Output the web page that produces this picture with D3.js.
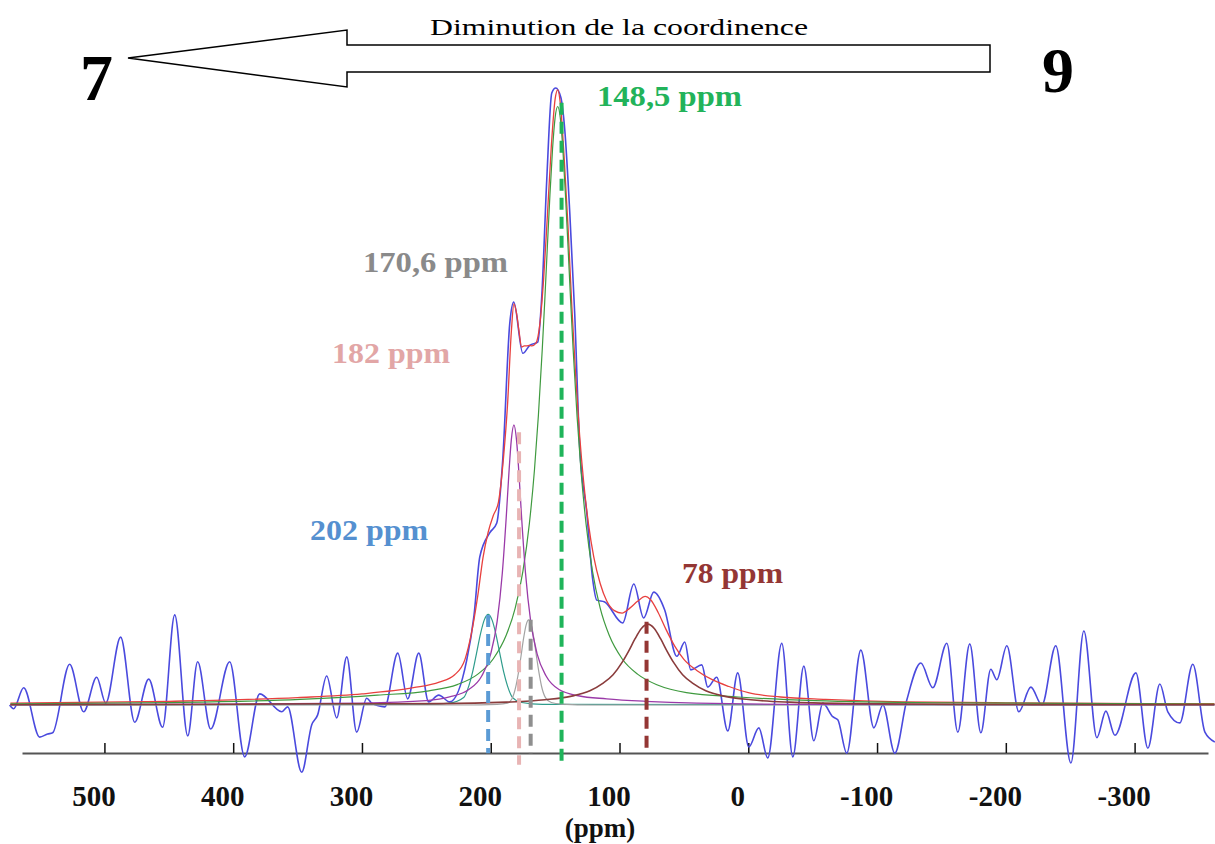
<!DOCTYPE html>
<meta charset="utf-8">
<style>
body { margin: 0; background: #fff; }
svg { display: block; font-family: "Liberation Serif", "Times New Roman", Tinos, Times, serif; }
svg text { font-family: "Liberation Serif", "Times New Roman", Tinos, Times, serif; }
.curve { fill: none; stroke-linejoin: round; }
</style>
<svg width="1215" height="844"></svg>
<script src="https://d3js.org/d3.v7.min.js"></script>
<script>

// axis ticks (ppm)
var tickValues = [500, 400, 300, 200, 100, 0, -100, -200, -300];

// experimental spectrum (blue), ppm / intensity (% of max)
var spectrumPpm = [573.6, 570.5, 562.7, 550.3, 544.1, 540.2, 527.0, 516.1, 506.0, 499.0,
  487.4, 476.5, 465.6, 454.8, 445.4, 435.3, 427.6, 417.5, 402.7, 391.1,
  379.4, 362.3, 357.7, 346.8, 339.0, 334.4, 327.4, 319.6, 311.8, 304.1,
  296.3, 292.4, 282.3, 272.2, 264.5, 255.9, 248.2, 240.4, 231.8, 218.6,
  213.0, 208.5, 200.8, 195.3, 190.7, 185.2, 182.1, 175.1, 169.7, 163.5,
  160.4, 156.5, 152.6, 149.5, 145.6, 142.5, 138.6, 134.8, 130.9, 125.4,
  120.8, 117.7, 111.5, 97.5, 88.9, 81.2, 73.4, 64.9, 55.5, 49.3,
  44.7, 36.1, 31.5, 24.5, 15.9, 8.2, -0.4, -8.2, -15.1, -26.0,
  -34.6, -43.1, -50.9, -57.9, -65.6, -69.5, -76.5, -87.4, -97.5, -104.5,
  -113.8, -123.1, -134.0, -143.3, -154.2, -162.7, -172.0, -180.6, -188.3, -193.0,
  -200.8, -210.1, -219.4, -228.0, -238.8, -250.5, -260.6, -270.7, -277.7, -284.7,
  -301.0, -310.3, -319.6, -325.8, -335.1, -345.2, -354.6, -362.3];
var spectrumInt = [0, -0.6, 2.8, -5.2, -4.7, -4.5, 6.6, -1.1, 4.5, 0.3,
  11.0, -2.8, 4.2, -3.6, 14.6, -5.0, 7.0, -3.9, 7.0, -8.4,
  1.8, -1.1, -0.3, -10.9, -3.2, -1.6, 4.7, -2.1, 7.8, -4.4,
  1.1, 0.3, -0.3, 8.4, 1.0, 8.4, 0.5, 1.6, 0.5, 7.3,
  14.5, 24.0, 27.9, 29.5, 39.7, 61.9, 65.3, 57.0, 58.3, 58.8,
  66.1, 85.1, 99.2, 100, 98.5, 93.2, 79.7, 63.5, 41.8, 31.1,
  20.3, 17.0, 16.7, 13.3, 19.6, 14.1, 18.3, 15.4, 7.9, 10.2,
  5.7, 6.5, 2.9, 4.5, -4.2, 5.2, -6.8, -3.7, -8.6, 10.0,
  -8.4, 6.3, -5.8, 0.3, -1.9, -2.4, -7.8, 8.9, -3.7, 0,
  -7.8, 0.8, 6.8, 2.8, 10.0, -4.4, 9.9, -4.5, 5.8, 4.1,
  9.6, -1.1, 2.9, 0, 9.6, -9.4, 12.0, -5.3, -1.0, -4.9,
  5.2, -7.0, 3.4, -1.1, -2.9, 6.6, -4.4, -6.0];

// total fit (red)
var fitPpm = [573, 450, 350, 300, 260, 240, 228, 220, 215, 210, 206, 202, 198, 194, 190, 187,
  184, 182, 180, 178, 176, 174, 172, 170, 168, 165, 162, 159, 156, 153, 150, 148,
  146, 143, 140, 137, 134, 131, 128, 124, 120, 115, 110, 104, 98, 92, 86, 80,
  76, 70, 64, 57, 50, 40, 28, 15, 0, -25, -60, -120, -200, -362];
var fitInt = [0.3, 0.6, 1.2, 1.8, 2.8, 3.7, 4.9, 7.4, 11.6, 17.8, 23.9, 28.0, 30.7, 32.9, 40.3, 48.5,
  60.5, 65.0, 63.5, 60.5, 58.0, 58.2, 58.2, 58.3, 58.2, 58.6, 61.5, 68.8, 79.3, 90.4, 98.2, 99.7,
  97.6, 88.8, 77.6, 64.5, 53.2, 43.8, 36.5, 29.2, 24.0, 19.7, 16.9, 15.3, 14.9, 15.7, 16.8, 17.6,
  17.1, 15.0, 12.3, 9.5, 7.4, 5.6, 4.1, 3.0, 2.0, 1.3, 0.9, 0.5, 0.35, 0.2];

// components
var greenPpm = [573, 448, 348, 288, 248, 226, 210, 198, 188, 181, 175, 170, 166, 163, 160, 158,
  156, 154, 152, 150, 148, 146, 144, 142, 140, 138, 136, 133, 130, 126, 121, 115,
  108, 98, 86, 70, 48, 8, -52, -152, -362];
var greenInt = [0.2, 0.4, 0.9, 1.6, 2.3, 3.3, 5.0, 7.5, 11.3, 15.7, 21.7, 29.4, 38.2, 46.9, 57.6, 65.7,
  74.4, 82.8, 90.1, 95.2, 97, 95.2, 90.1, 82.8, 74.4, 65.7, 57.6, 46.9, 38.2, 29.4, 21.7, 15.7,
  11.3, 7.5, 5.0, 3.2, 2.0, 1.3, 0.7, 0.35, 0.15];

var purplePpm = [573, 400, 300, 250, 232, 217, 207, 200, 195, 191, 188, 186, 184, 182, 180, 178,
  176, 173, 169, 164, 157, 147, 132, 110, 80, 40, -50, -362];
var purpleInt = [0.05, 0.15, 0.3, 0.7, 1.3, 2.5, 4.7, 8.3, 13.6, 21.4, 30.3, 37.2, 43.0, 45.4, 43.0, 37.2,
  30.3, 21.4, 13.6, 8.3, 4.7, 2.5, 1.5, 1.0, 0.6, 0.3, 0.1, 0.05];

var tealPpm = [573, 250, 232, 221, 217, 214, 211, 208, 205, 202, 199, 196, 193, 190, 187, 183, 176, 160, -362];
var tealInt = [0, 0.1, 0.3, 1.2, 3.1, 5.4, 8.4, 11.5, 13.8, 14.7, 13.8, 11.5, 8.4, 5.4, 3.1, 1.2, 0.4, 0.1, 0];

var grayPpm = [573, 220, 195, 187, 183.5, 180.5, 178.5, 176.5, 174.5, 172.5, 170.5, 168.5, 166.5,
  164.5, 162.5, 160.5, 157.5, 153, 145, 120, -362];
var grayInt = [0, 0, 0.1, 0.3, 1.0, 3.0, 5.2, 7.9, 10.8, 13.0, 13.8, 13.0, 10.8,
  7.9, 5.2, 3.0, 1.2, 0.4, 0.15, 0, 0];

var brownPpm = [573, 400, 330, 238, 188, 158, 138, 123, 113, 105, 98, 93, 88, 83, 78, 73,
  68, 63, 58, 51, 43, 33, 18, -2, -32, -82, -172, -362];
var brownInt = [0.05, 0.12, 0.2, 0.22, 0.46, 0.85, 1.4, 2.3, 3.5, 4.9, 6.9, 8.7, 10.7, 12.4, 13.1, 12.4,
  10.7, 8.7, 6.9, 4.9, 3.5, 2.3, 1.4, 0.85, 0.46, 0.22, 0.09, 0.04];

// dashed peak markers and their labels
var markerPpm = [202, 178, 169, 145, 79];
var markerTop = [14.6, 44.2, 13.8, 97.6, 13.5];
var markerBottom = [-7.8, -9.7, -7.8, -9.7, -7.8];
var peakLabels = ["202 ppm", "182 ppm", "170,6 ppm", "148,5 ppm", "78 ppm"];

// styles / layout
var serif = "'Liberation Serif', 'Times New Roman', Tinos, Times, serif";
var markerColors = ["#5b9bd5", "#e8b4b4", "#8f8f8f", "#1fb45a", "#943634"];
var labelColors = ["#5590d0", "#e2a6a6", "#8a8a8a", "#22b35a", "#943634"];
var labelPos = [[310, 540, 118], [332, 363, 118], [363, 272, 145], [597, 106, 145], [682, 583, 101]];

var svg = d3.select("svg");

var x = d3.scaleLinear().domain([564, -357]).range([22, 1208]);
var y = d3.scaleLinear().domain([0, 100]).range([705, 88]);

var line = d3.line()
  .x(function(d) { return x(d[0]); })
  .y(function(d) { return y(d[1]); })
  .curve(d3.curveMonotoneX);

function zip(a, b) { return a.map(function(v, i) { return [v, b[i]]; }); }

var curves = [
  { data: zip(spectrumPpm, spectrumInt), color: "#4a4ade", width: 1.6 },
  { data: zip(fitPpm, fitInt), color: "#e8403e", width: 1.3 },
  { data: zip(greenPpm, greenInt), color: "#3f9a3f", width: 1.2 },
  { data: zip(tealPpm, tealInt), color: "#2f9c8c", width: 1.2 },
  { data: zip(grayPpm, grayInt), color: "#a3a3a3", width: 1.2 },
  { data: zip(purplePpm, purpleInt), color: "#9a3aa8", width: 1.3 },
  { data: zip(brownPpm, brownInt), color: "#8a3c3c", width: 1.6 }
];

// x axis, ticks pointing up
var axis = d3.axisBottom(x)
  .tickValues(tickValues)
  .tickSize(-10)
  .tickSizeOuter(0)
  .tickFormat(function(d) { return String(d); });

var ax = svg.append("g")
  .attr("transform", "translate(0,753)")
  .call(axis)
  .attr("font-family", serif)
  .attr("font-size", 29)
  .attr("font-weight", "bold");

ax.select(".domain").attr("stroke", "#555").attr("stroke-width", 2);
ax.selectAll(".tick line").attr("stroke", "#111").attr("stroke-width", 1.5);
ax.selectAll(".tick text")
  .attr("y", 53)
  .attr("dy", null)
  .attr("dx", -11)
  .attr("fill", "#111");

svg.append("text")
  .attr("x", 600)
  .attr("y", 837)
  .attr("text-anchor", "middle")
  .attr("font-size", 27)
  .attr("font-weight", "bold")
  .attr("fill", "#111")
  .text("(ppm)");

svg.append("g").selectAll("path")
  .data(curves)
  .enter().append("path")
    .attr("class", "curve")
    .attr("stroke", function(d) { return d.color; })
    .attr("stroke-width", function(d) { return d.width; })
    .attr("d", function(d) { return line(d.data); });

// dashed markers
svg.append("g").selectAll("line")
  .data(markerPpm)
  .enter().append("line")
    .attr("x1", function(d) { return x(d); })
    .attr("x2", function(d) { return x(d); })
    .attr("y1", function(d, i) { return y(markerTop[i]); })
    .attr("y2", function(d, i) { return y(markerBottom[i]); })
    .attr("stroke", function(d, i) { return markerColors[i]; })
    .attr("stroke-width", 4)
    .attr("stroke-dasharray", "12,7");

svg.append("g").selectAll("text")
  .data(peakLabels)
  .enter().append("text")
    .attr("x", function(d, i) { return labelPos[i][0]; })
    .attr("y", function(d, i) { return labelPos[i][1]; })
    .attr("textLength", function(d, i) { return labelPos[i][2]; })
    .attr("lengthAdjust", "spacingAndGlyphs")
    .attr("font-size", 30)
    .attr("font-weight", "bold")
    .attr("fill", function(d, i) { return labelColors[i]; })
    .text(function(d) { return d; });

// arrow "Diminution de la coordinence"
svg.append("path")
  .attr("d", "M128,58 L347,30 L347,45 L990,45 L990,72 L347,72 L347,87 Z")
  .attr("fill", "#fff")
  .attr("stroke", "#000")
  .attr("stroke-width", 1.5);

svg.append("text")
  .attr("x", 430)
  .attr("y", 35)
  .attr("font-size", 24)
  .attr("textLength", 378)
  .attr("lengthAdjust", "spacingAndGlyphs")
  .attr("fill", "#000")
  .text("Diminution de la coordinence");

svg.append("text")
  .attr("x", 80).attr("y", 100)
  .attr("font-size", 66).attr("font-weight", "bold")
  .text("7");

svg.append("text")
  .attr("x", 1042).attr("y", 92)
  .attr("font-size", 64).attr("font-weight", "bold")
  .text("9");

</script>
